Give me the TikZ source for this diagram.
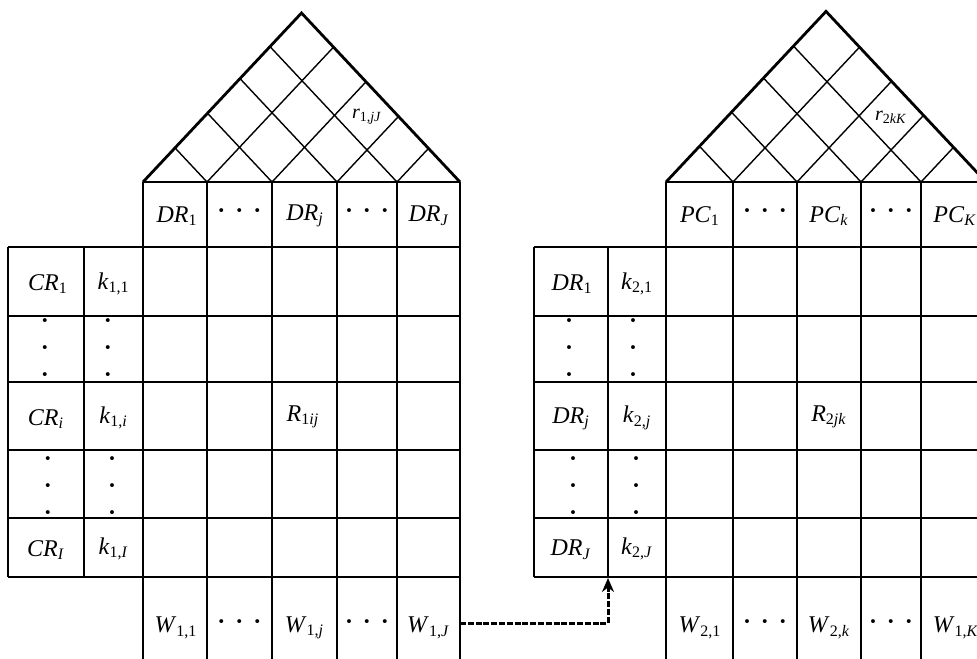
\documentclass[tikz,border=0pt]{standalone}
\usepackage{fontspec}
\setmainfont{Liberation Serif}
\usetikzlibrary{arrows.meta}
\newcommand{\lbl}[2]{\textit{#1}\textsubscript{#2}}
\newcommand{\hdt}{\textbf{·}\hspace{5pt}\textbf{·}\hspace{5pt}\textbf{·}}
\newcommand{\vdt}{\textbf{·}\\\textbf{·}\\\textbf{·}}
\begin{document}
\begin{tikzpicture}[x=0.5pt,y=-0.5pt,
  grid/.style={line width=1pt},
  roof/.style={line width=1.4pt, line join=miter},
  lattice/.style={line width=0.7pt},
  lab/.style={font=\fontsize{12}{14}\selectfont, inner sep=0pt},
  vd/.style={font=\fontsize{12}{13.5}\selectfont, align=center, inner sep=0pt},
  flow/.style={line width=1.5pt, dash pattern=on 3pt off 0.9pt, -{Stealth[length=7pt,width=6pt]}}]
\useasboundingbox (0,0) rectangle (977,658);
\clip (0,0) rectangle (977,658);
\fill[white] (0,0) rectangle (977,658);

% ---------------- left house ----------------
% roof
\draw[roof] (143,182) -- (301.5,13) -- (460,182);
\foreach \b in {207,272,337,397} {
  \draw[lattice] (\b,182) -- ({(143+\b)/2},{182-1.066*(\b-143)/2});
  \draw[lattice] (\b,182) -- ({(460+\b)/2},{182-1.066*(460-\b)/2});
}
% grid
\draw[grid] (143,182) -- (460,182);
\foreach \y in {247,316,382,450,518,577} \draw[grid] (8,\y) -- (460,\y);
\foreach \x in {8,84} \draw[grid] (\x,247) -- (\x,577);
\foreach \x in {143,207,272,337,397,460} \draw[grid] (\x,182) -- (\x,670);

% header labels
\node[lab] (dr1) at (177,216) {\lbl{DR}{1}};
\node[lab] (ldA) at (239.5,214) {\hdt};
\node[lab] (drj) at (305,216) {\lbl{DR}{\textit{j}}};
\node[lab] (ldB) at (367,214) {\hdt};
\node[lab] (drJ) at (429,216) {\lbl{DR}{\textit{J}}};
% row header labels
\node[lab] (cr1) at (48,284) {\lbl{CR}{1}};
\node[lab] (k11) at (113.5,284) {\lbl{k}{1,1}};
\node[vd] (lv1a) at (45,351) {\vdt};
\node[vd] (lv1b) at (108,351) {\vdt};
\node[lab] (cri) at (46,419) {\lbl{CR}{\textit{i}}};
\node[lab] (k1i) at (113.5,418) {\lbl{k}{1,\textit{i}}};
\node[vd] (lv2a) at (48,489) {\vdt};
\node[vd] (lv2b) at (112,489) {\vdt};
\node[lab] (crI) at (46,550) {\lbl{CR}{\textit{I}}};
\node[lab] (k1I) at (113.5,549) {\lbl{k}{1,\textit{I}}};
% relation
\node[lab] (r1ij) at (303,417) {\lbl{R}{1\textit{ij}}};
% roof label
\node[lab, font=\fontsize{10}{12}\selectfont] (rr1) at (367,117) {\lbl{r}{1,\textit{jJ}}};
% weights
\node[lab] (w11) at (176,628) {\lbl{W}{1,1}};
\node[lab] (lwA) at (239.5,625) {\hdt};
\node[lab] (w1j) at (304.5,628) {\lbl{W}{1,\textit{j}}};
\node[lab] (lwB) at (367,625) {\hdt};
\node[lab] (w1J) at (428.5,628) {\lbl{W}{1,\textit{J}}};

% ---------------- right house ----------------
\draw[roof] (666,182) -- (826,11.4) -- (986,182);
\foreach \b in {733,797,861,921} {
  \draw[lattice] (\b,182) -- ({(666+\b)/2},{182-1.066*(\b-666)/2});
  \draw[lattice] (\b,182) -- ({(986+\b)/2},{182-1.066*(986-\b)/2});
}
\draw[grid] (666,182) -- (986,182);
\foreach \y in {247,316,382,450,518,577} \draw[grid] (534,\y) -- (986,\y);
\foreach \x in {534,608} \draw[grid] (\x,247) -- (\x,577);
\foreach \x in {666,733,797,861,921,986} \draw[grid] (\x,182) -- (\x,670);

\node[lab] (pc1) at (700,216) {\lbl{PC}{1}};
\node[lab] (rdA) at (765,214) {\hdt};
\node[lab] (pck) at (829,216) {\lbl{PC}{\textit{k}}};
\node[lab] (rdB) at (891,214) {\hdt};
\node[lab] (pcK) at (955,216) {\lbl{PC}{\textit{K}}};

\node[lab] (dr1r) at (572,284) {\lbl{DR}{1}};
\node[lab] (k21) at (637,284) {\lbl{k}{2,1}};
\node[vd] (rv1a) at (569,351) {\vdt};
\node[vd] (rv1b) at (633,351) {\vdt};
\node[lab] (drjr) at (571,419) {\lbl{DR}{\textit{j}}};
\node[lab] (k2j) at (637,418) {\lbl{k}{2,\textit{j}}};
\node[vd] (rv2a) at (573,489) {\vdt};
\node[vd] (rv2b) at (636,489) {\vdt};
\node[lab] (drJr) at (571,550) {\lbl{DR}{\textit{J}}};
\node[lab] (k2J) at (637,549) {\lbl{k}{2,\textit{J}}};

\node[lab] (r2jk) at (829,417) {\lbl{R}{2\textit{jk}}};
\node[lab, font=\fontsize{10}{12}\selectfont] (rr2) at (891,117) {\lbl{r}{2\textit{kK}}};

\node[lab] (w21) at (700,628) {\lbl{W}{2,1}};
\node[lab] (rwA) at (765,625) {\hdt};
\node[lab] (w2k) at (829,628) {\lbl{W}{2,\textit{k}}};
\node[lab] (rwB) at (891,625) {\hdt};
\node[lab] (w1K) at (956,628) {\lbl{W}{1,\textit{K}}};

% ---------------- connector ----------------
\coordinate (fstart) at (460,623);
\coordinate (fend) at (608,578);
\draw[flow] (fstart) -| (fend);
\end{tikzpicture}
\end{document}
